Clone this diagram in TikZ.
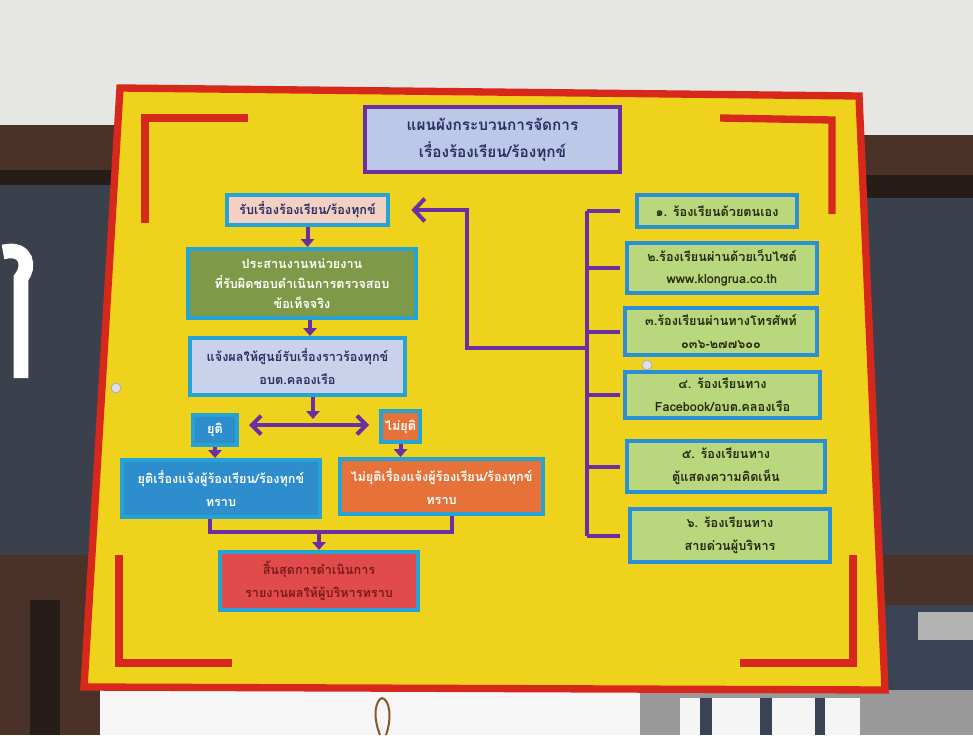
\documentclass[tikz,border=0pt]{standalone}
\usepackage{fontspec}
\newfontfamily\thai[Script=Thai]{Loma}
\usetikzlibrary{arrows.meta}
\definecolor{wall}{HTML}{E6E6E3}
\definecolor{brownA}{HTML}{4A3228}
\definecolor{brownD}{HTML}{261C18}
\definecolor{panel}{HTML}{3B404D}
\definecolor{panelB}{HTML}{3A4256}
\definecolor{boardY}{HTML}{EFD21C}
\definecolor{boardR}{HTML}{D8281C}
\definecolor{purp}{HTML}{6A2FA0}
\definecolor{cyanb}{HTML}{25A3D3}
\definecolor{blueb}{HTML}{2A8FD4}
\definecolor{titleF}{HTML}{BCC8E8}
\definecolor{titleT}{HTML}{2A2F60}
\definecolor{recvF}{HTML}{F2D0C4}
\definecolor{coordF}{HTML}{7E9A48}
\definecolor{notifF}{HTML}{C9D2EA}
\definecolor{blueF}{HTML}{2E8DCD}
\definecolor{orangeF}{HTML}{E6723A}
\definecolor{endF}{HTML}{E24B4B}
\definecolor{endT}{HTML}{7A1A1A}
\definecolor{greenF}{HTML}{B9D77C}
\definecolor{greenT}{HTML}{252A10}
\begin{document}
\begin{tikzpicture}[x=0.75pt,y=-0.75pt,
  box/.style={draw=cyanb, line width=3pt, align=center, inner sep=0pt, font=\thai\bfseries\fontsize{9.5}{17}\selectfont},
  fs/.style 2 args={font=\thai\bfseries\fontsize{#1}{#2}\selectfont},
  sz/.style 2 args={minimum width=#1*0.75pt, minimum height=#2*0.75pt},
  rbox/.style={box, draw=blueb, fill=greenF, text=greenT},
  link/.style={draw=purp, line width=3pt},
  arr/.style={link, -{Triangle[length=6pt,width=10pt]}},
  barb/.style={link, -{Straight Barb[length=8pt,width=17pt,line width=3pt]}},
  dbarb/.style={link, {Straight Barb[length=7pt,width=14pt,line width=3pt]}-{Straight Barb[length=7pt,width=14pt,line width=3pt]}},
  bracket/.style={draw=boardR, line width=5.5pt}
]
\useasboundingbox (0,0) rectangle (973,735);
% ---------- background scene ----------
\fill[wall] (0,0) rectangle (973,735);
\fill[brownA] (0,125) rectangle (118,170);
\fill[brownD] (0,170) rectangle (116,185);
\fill[panel] (0,185) rectangle (112,560);
\fill[brownA] (0,555) rectangle (100,735);
\fill[brownD] (30,600) rectangle (60,735);
\fill[brownA] (862,135) rectangle (973,175);
\fill[brownD] (862,175) rectangle (973,198);
\fill[panel] (864,198) rectangle (973,555);
\fill[brownA] (866,555) rectangle (973,605);
\fill[panelB] (868,605) rectangle (973,735);
\fill[gray!60] (918,612) rectangle (973,640);
\fill[gray!80] (640,690) rectangle (973,735);
\fill[white!92!gray] (680,698) rectangle (860,735);
\fill[panelB] (700,698) rectangle (712,735);
\fill[panelB] (760,698) rectangle (772,735);
\fill[panelB] (815,698) rectangle (825,735);
\fill[white!93!gray] (100,690) rectangle (640,735);
\draw[white, line width=11pt] (3,252) .. controls (28,246) and (30,268) .. (21,278) -- (21,378);
% ---------- board ----------
\filldraw[fill=boardY, draw=boardR, line width=5.5pt]
  (120,88) -- (859,96) -- (885,690) -- (84,687) -- cycle;
\draw[bracket] (145,223) -- (145,118) -- (248,118);
\draw[bracket] (720,118) -- (832,120) -- (832,214);
\draw[bracket] (119,555) -- (119,663) -- (232,663);
\draw[bracket] (740,663) -- (853,663) -- (853,555);
\filldraw[fill=gray!25, draw=gray!60, line width=0.8pt] (116,388) circle (5);
\filldraw[fill=gray!25, draw=gray!60, line width=0.8pt] (647,365) circle (5);
\draw[brown!70!black, line width=1.5pt] (380,735) .. controls (372,715) and (376,700) .. (382,698) .. controls (390,700) and (392,718) .. (386,735);
% ---------- left flow ----------
\node[box, sz={255}{65}, draw=purp, fill=titleF, text=titleT, fs={11.5}{20}] (title) at (492.5,139.5) {แผนผังกระบวนการจัดการ\\เรื่องร้องเรียน/ร้องทุกข์};
\node[box, sz={161}{30}, fill=recvF, text=titleT] (recv) at (307.5,210) {รับเรื่องร้องเรียน/ร้องทุกข์};
\node[box, sz={228}{69}, fill=coordF, text=white, fs={9.5}{15}] (coord) at (302,283.5) {ประสานงานหน่วยงาน\\ที่รับผิดชอบดำเนินการตรวจสอบ\\ข้อเท็จจริง};
\node[box, sz={215}{57}, fill=notifF, text=titleT] (notify) at (297.5,366.5) {แจ้งผลให้ศูนย์รับเรื่องราวร้องทุกข์\\อบต.คลองเรือ};
\node[box, sz={44}{30}, fill=blueF, text=white] (yuti) at (215,430) {ยุติ};
\node[box, sz={39}{31}, fill=orangeF, text=white] (maiyuti) at (400.5,426.5) {ไม่ยุติ};
\node[box, sz={198}{57}, fill=blueF, text=white] (yutiR) at (221,488.5) {ยุติเรื่องแจ้งผู้ร้องเรียน/ร้องทุกข์\\ทราบ};
\node[box, sz={203}{55}, fill=orangeF, text=white] (maiyutiR) at (441.5,486.5) {ไม่ยุติเรื่องแจ้งผู้ร้องเรียน/ร้องทุกข์\\ทราบ};
\node[box, sz={198}{58}, fill=endF, text=endT] (end) at (319,581) {สิ้นสุดการดำเนินการ\\รายงานผลให้ผู้บริหารทราบ};
\coordinate (fork) at (313,419);
\coordinate (dl) at (249,425);
\coordinate (dr) at (369,425);
\coordinate (m1) at (210,532);
\coordinate (m2) at (452,532);
\draw[arr] (recv.south) -- (recv.south |- coord.north);
\draw[arr] (coord.south -| 310,0) -- (notify.north -| 310,0);
\draw[arr] (notify.south -| fork) -- (fork);
\draw[dbarb] (dl) -- (dr);
\draw[arr] (yuti.south) -- (yuti.south |- yutiR.north);
\draw[arr] (maiyuti.south) -- (maiyuti.south |- maiyutiR.north);
\draw[link] (yutiR.south -| m1) -- (m1) -- (m2) -- (maiyutiR.south -| m2);
\draw[arr] (end.north |- m1) -- (end.north);
% ---------- right channels ----------
\node[rbox, sz={160}{32}] (r1) at (717,211) {๑. ร้องเรียนด้วยตนเอง};
\node[rbox, sz={190}{50}] (r2) at (722,268) {๒.ร้องเรียนผ่านด้วยเว็บไซต์\\www.klongrua.co.th};
\node[rbox, sz={192}{47}] (r3) at (721,331.5) {๓.ร้องเรียนผ่านทางโทรศัพท์\\๐๓๖-๒๗๗๖๐๐};
\node[rbox, sz={195}{46}] (r4) at (722.5,395) {๔. ร้องเรียนทาง\\Facebook/อบต.คลองเรือ};
\node[rbox, sz={198}{51}] (r5) at (726,466.5) {๕. ร้องเรียนทาง\\ตู้แสดงความคิดเห็น};
\node[rbox, sz={200}{53}] (r6) at (730,535.5) {๖. ร้องเรียนทาง\\สายด่วนผู้บริหาร};
\coordinate (bus) at (587,0);
\coordinate (fa) at (467,348);
\draw[link] (bus |- r1) -- (bus |- r6);
\foreach \r in {r1,r2,r3,r4,r5,r6} \draw[link] (bus |- \r) -- ++(33,0);
\draw[barb] (bus |- fa) -- (fa) -- (fa |- recv) -- ([xshift=16pt]recv.east);
\end{tikzpicture}
\end{document}
